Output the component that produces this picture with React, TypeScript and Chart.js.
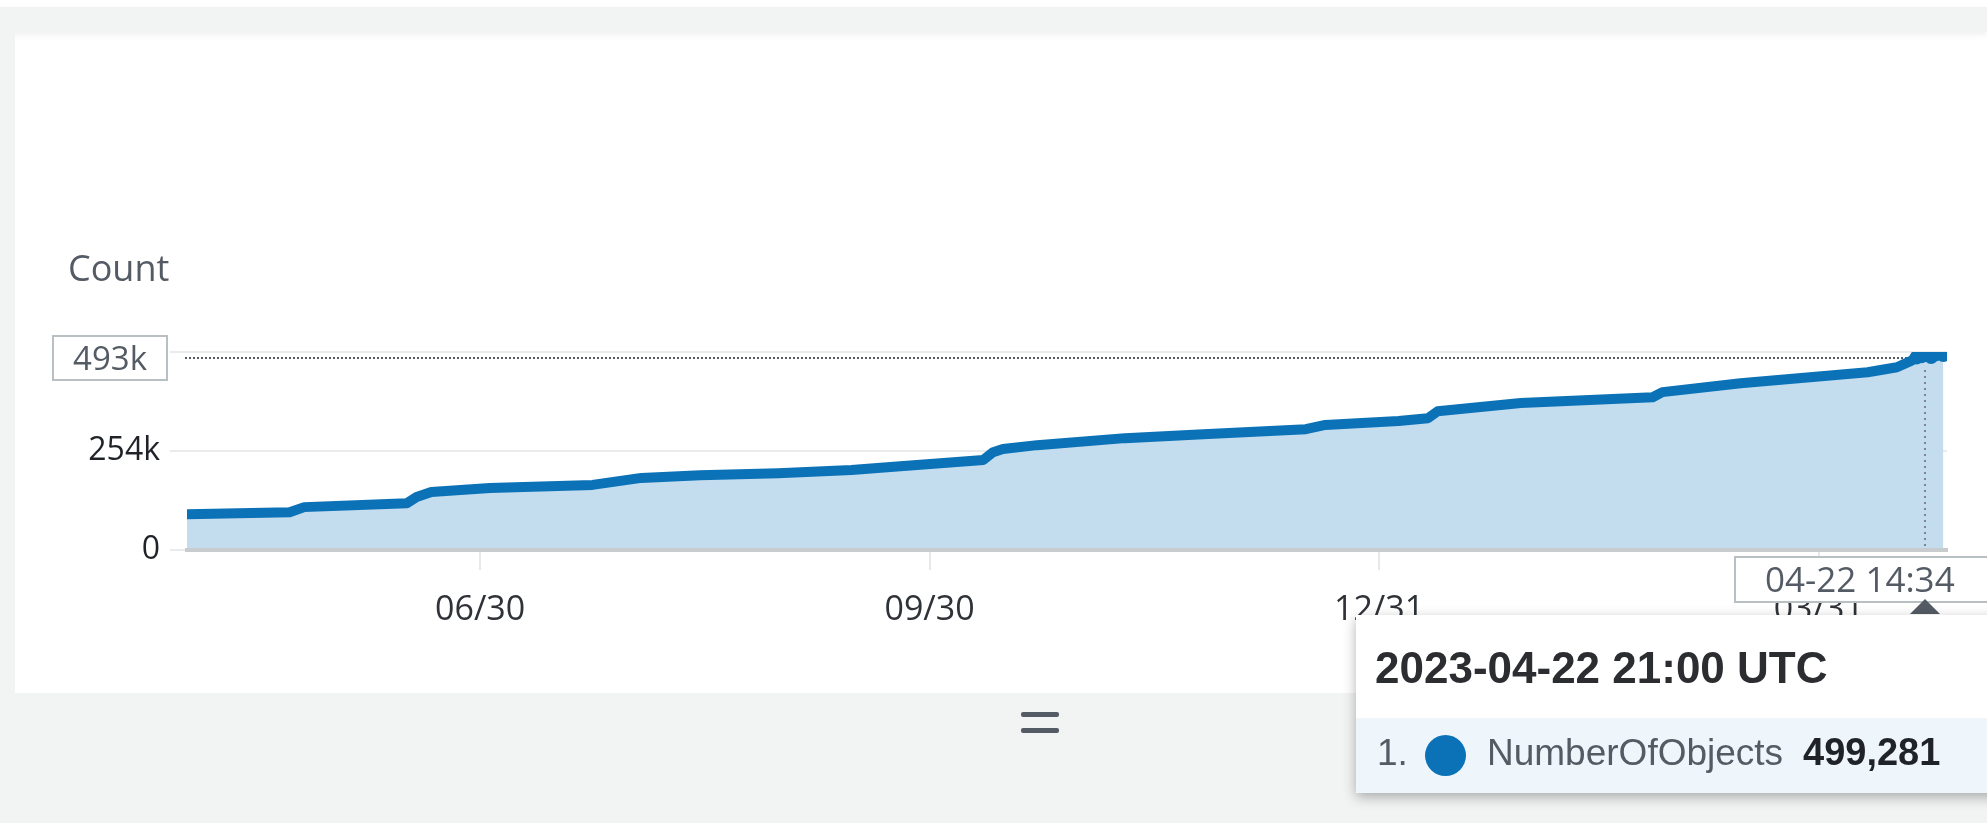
import React, { useEffect, useRef } from 'react';
import { Chart, registerables } from 'chart.js';

Chart.register(...registerables);

// ---- data ----
const dates = [
  '2022-05-01', '2022-05-22', '2022-05-25', '2022-06-15', '2022-06-17', '2022-06-20',
  '2022-07-02', '2022-07-23', '2022-08-02', '2022-08-14', '2022-08-30', '2022-09-14',
  '2022-09-24', '2022-10-11', '2022-10-13', '2022-10-15', '2022-10-22', '2022-11-09',
  '2022-11-25', '2022-12-16', '2022-12-20', '2023-01-04', '2023-01-10', '2023-01-12',
  '2023-01-29', '2023-02-25', '2023-02-27', '2023-03-15', '2023-04-10', '2023-04-16',
  '2023-04-19', '2023-04-20', '2023-04-21', '2023-04-22T21:00', '2023-04-23', '2023-04-24',
  '2023-04-25T12:00',
];
const values = [
  92000, 97000, 110000, 120000, 136000, 149000,
  159000, 167000, 185000, 192000, 197000, 205000,
  215000, 231000, 251000, 259000, 269000, 287000,
  297000, 310000, 321000, 331000, 338000, 356000,
  377000, 392000, 405000, 428000, 456000, 469000,
  486000, 494000, 497000, 499281, 495000, 502000,
  500000,
];
const xTickDates = ['2022-06-30', '2022-09-30', '2022-12-31', '2023-03-31'];
const xTickLabels = ['06/30', '09/30', '12/31', '03/31'];
const yTickValues = [0, 254000, 508000];
const yTickLabels = ['0', '254k', ''];
const xMinDate = '2022-05-01';
const xMaxDate = '2023-04-26T06:00';
const yMax = 508000;
const axisTitle = 'Count';
const cursorTime = '2023-04-21T19:30';
const cursorValue = 493000;
const cursorValueLabel = '493k';
const cursorTimeLabel = '04-22 14:34';
const tooltipTitle = '2023-04-22 21:00 UTC';
const seriesName = 'NumberOfObjects';
const tooltipValue = '499,281';

const BLUE = '#0b72b8';
const FILL = '#c3dcee';
const AXIS_FONT = "'Open Sans', sans-serif";
const TIP_FONT = "'Liberation Sans', Arial, sans-serif";

const t = (d: string) => Date.parse(d.length === 10 ? d + 'T00:00:00Z' : d + ':00Z');

const overlayPlugin = {
  id: 'overlay',
  beforeDatasetsDraw(chart: any) {
    const ctx = chart.ctx;
    const xs = chart.scales.x;
    const ys = chart.scales.y;
    const y = Math.round(ys.getPixelForValue(cursorValue));
    const x = xs.getPixelForValue(t(cursorTime));
    ctx.save();
    ctx.strokeStyle = '#545b64';
    ctx.lineWidth = 2;
    ctx.setLineDash([2, 2]);
    ctx.beginPath();
    ctx.moveTo(185, y);
    ctx.lineTo(x, y);
    ctx.stroke();
    ctx.restore();
  },
  afterDraw(chart: any) {
    const ctx = chart.ctx;
    const xs = chart.scales.x;
    const ys = chart.scales.y;
    const area = chart.chartArea;
    const y = Math.round(ys.getPixelForValue(cursorValue));
    const x = Math.round(xs.getPixelForValue(t(cursorTime)));
    ctx.save();
    // vertical crosshair
    ctx.strokeStyle = '#7d8690';
    ctx.lineWidth = 2;
    ctx.setLineDash([2, 4]);
    ctx.beginPath();
    ctx.moveTo(x, y + 12);
    ctx.lineTo(x, area.bottom - 2);
    ctx.stroke();
    ctx.setLineDash([]);

    // axis title
    ctx.fillStyle = '#545b64';
    ctx.font = `36px ${AXIS_FONT}`;
    ctx.textAlign = 'left';
    ctx.textBaseline = 'alphabetic';
    ctx.fillText(axisTitle, 68, 281);

    // value box on y axis
    ctx.fillStyle = '#ffffff';
    ctx.fillRect(53, y - 22, 114, 44);
    ctx.strokeStyle = '#b9c0c4';
    ctx.lineWidth = 2;
    ctx.strokeRect(53, y - 22, 114, 44);
    ctx.fillStyle = '#545b64';
    ctx.font = `33px ${AXIS_FONT}`;
    ctx.textAlign = 'center';
    ctx.fillText(cursorValueLabel, 110, y + 12);

    // time box on x axis
    const by = area.bottom + 7;
    ctx.fillStyle = '#ffffff';
    ctx.fillRect(1735, by, 280, 45);
    ctx.strokeStyle = '#b9c0c4';
    ctx.strokeRect(1735, by, 280, 45);
    ctx.fillStyle = '#545b64';
    ctx.font = `35px ${AXIS_FONT}`;
    ctx.textAlign = 'left';
    ctx.fillText(cursorTimeLabel, 1765, by + 35);

    // pointer triangle
    ctx.fillStyle = '#545b64';
    ctx.beginPath();
    ctx.moveTo(x, by + 42);
    ctx.lineTo(x + 15, by + 57);
    ctx.lineTo(x - 15, by + 57);
    ctx.closePath();
    ctx.fill();
    ctx.restore();
  },
};

function App() {
  const ref = useRef<HTMLCanvasElement | null>(null);

  useEffect(() => {
    const canvas = ref.current;
    if (!canvas) return;
    const data = dates.map((d, i) => ({ x: t(d), y: values[i] }));
    const chart = new Chart(canvas, {
      type: 'line',
      data: {
        datasets: [
          {
            label: seriesName,
            data,
            borderColor: BLUE,
            backgroundColor: FILL,
            fill: 'origin',
            borderWidth: 10,
            tension: 0,
            borderJoinStyle: 'round',
            borderCapStyle: 'round',
            pointRadius: (c: any) => (c.dataIndex >= values.length - 6 ? 7 : 0),
            pointBackgroundColor: BLUE,
            pointBorderWidth: 0,
          } as any,
        ],
      },
      options: {
        animation: false,
        responsive: false,
        devicePixelRatio: 1,
        events: [],
        layout: { padding: { top: 352, right: 40, left: 0, bottom: 0 } },
        plugins: { legend: { display: false }, tooltip: { enabled: false } },
        scales: {
          x: {
            type: 'linear',
            min: t(xMinDate),
            max: t(xMaxDate),
            afterFit: (s: any) => { s.height = 273; },
            afterBuildTicks: (s: any) => { s.ticks = xTickDates.map((d) => ({ value: t(d) })); },
            ticks: {
              callback: (_v: any, i: number) => xTickLabels[i] ?? '',
              font: { family: AXIS_FONT, size: 34 },
              color: '#2f3337',
              padding: 20,
              maxRotation: 0,
              autoSkip: false,
            },
            grid: { drawOnChartArea: false, tickLength: 20, color: '#e6e8ea', lineWidth: 2 },
            border: { display: true, color: '#c9ccce', width: 4, z: 1 },
          },
          y: {
            min: 0,
            max: yMax,
            afterFit: (s: any) => { s.width = 187; },
            afterBuildTicks: (s: any) => { s.ticks = yTickValues.map((v) => ({ value: v })); },
            ticks: {
              callback: (_v: any, i: number) => yTickLabels[i] ?? '',
              font: { family: AXIS_FONT, size: 32 },
              color: '#1f2328',
              padding: 10,
            },
            grid: { color: '#e9ebed', lineWidth: 2, tickLength: 17 },
            border: { display: false },
          },
        },
      } as any,
      plugins: [overlayPlugin],
    });
    return () => chart.destroy();
  }, []);

  const gray = '#f2f3f3';
  return (
    <div style={{ position: 'fixed', left: 0, top: 0, width: 1987, height: 823, overflow: 'hidden', background: '#ffffff' }}>
      <div style={{ position: 'absolute', left: 0, top: 7, width: 1987, height: 25, background: gray, boxShadow: '0 3px 6px rgba(0,0,0,0.06)' }} />
      <div style={{ position: 'absolute', left: 0, top: 32, width: 15, height: 661, background: gray }} />
      <div style={{ position: 'absolute', left: 0, top: 693, width: 1987, height: 130, background: gray }} />
      <div style={{ position: 'absolute', left: 1021, top: 712, width: 38, height: 5, borderRadius: 2, background: '#545b64' }} />
      <div style={{ position: 'absolute', left: 1021, top: 728, width: 38, height: 5, borderRadius: 2, background: '#545b64' }} />
      <canvas ref={ref} width={1987} height={823} style={{ position: 'absolute', left: 0, top: 0, width: 1987, height: 823 }} />
      <div style={{ position: 'absolute', left: 1356, top: 615, width: 680, height: 178, background: '#ffffff', boxShadow: '0 4px 12px rgba(0,0,0,0.3)', fontFamily: TIP_FONT }}>
        <div style={{ position: 'absolute', left: 19, top: 31, fontSize: 44, lineHeight: '44px', fontWeight: 'bold', color: '#2b2d30', whiteSpace: 'nowrap' }}>{tooltipTitle}</div>
        <div style={{ position: 'absolute', left: 0, top: 103, width: 680, height: 75, background: '#eff6fb' }}>
          <div style={{ position: 'absolute', left: 21, top: 16, fontSize: 37, lineHeight: '37px', color: '#545b64' }}>1.</div>
          <div style={{ position: 'absolute', left: 69, top: 17, width: 41, height: 41, borderRadius: '50%', background: BLUE }} />
          <div style={{ position: 'absolute', left: 131, top: 16, fontSize: 37, lineHeight: '37px', color: '#545b64', whiteSpace: 'nowrap' }}>{seriesName}</div>
          <div style={{ position: 'absolute', left: 447, top: 16, fontSize: 38, lineHeight: '37px', fontWeight: 'bold', color: '#1f2328', whiteSpace: 'nowrap' }}>{tooltipValue}</div>
        </div>
      </div>
    </div>
  );
}

export default App;
